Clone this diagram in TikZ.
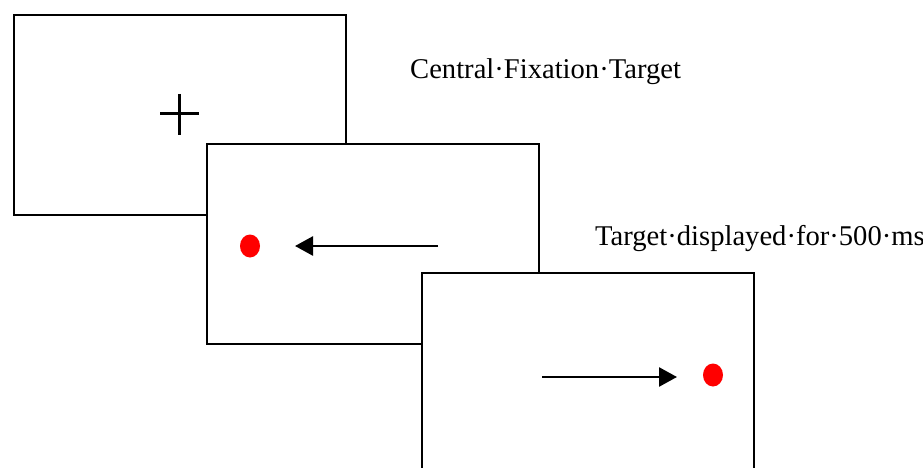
\documentclass[tikz,border=0pt]{standalone}
\usepackage{fontspec}
\setmainfont{Liberation Serif}
\usetikzlibrary{arrows.meta}

\tikzset{
  screen/.style={draw=black, line width=2.8pt, fill=white},
  target/.style={fill=red, draw=none},
  cue/.style={line width=2.6pt, -{Triangle[length=18pt,width=19pt]}},
  caption/.style={anchor=base west, inner sep=0pt, font=\fontsize{28.6}{34}\selectfont}
}

\begin{document}
\begin{tikzpicture}[x=1pt, y=-1pt]
\clip (0,0) rectangle (923,468);
% first screen: central fixation cross
\draw[screen] (14,15) rectangle (346,215);
\draw[line width=3pt] (160,114)--(199,114);
\draw[line width=3pt] (179,94)--(179,135);
% second screen: cue to the left
\draw[screen] (207,144) rectangle (539,344);
\fill[target] (250,246) ellipse (10 and 11.5);
\coordinate (cueLstart) at (438,246);
\coordinate (cueLend) at (295,246);
\draw[cue] (cueLstart)--(cueLend);
% third screen: cue to the right
\draw[screen] (422,273) rectangle (754,520);
\fill[target] (713,375) ellipse (10 and 11.5);
\coordinate (cueRstart) at (542,377);
\coordinate (cueRend) at (677,377);
\draw[cue] (cueRstart)--(cueRend);
% captions
\node[caption] (fixlabel) at (410,79) {Central·Fixation·Target};
\node[caption] (tgtlabel) at (595,245) {Target·displayed·for·500·ms};
\end{tikzpicture}
\end{document}
